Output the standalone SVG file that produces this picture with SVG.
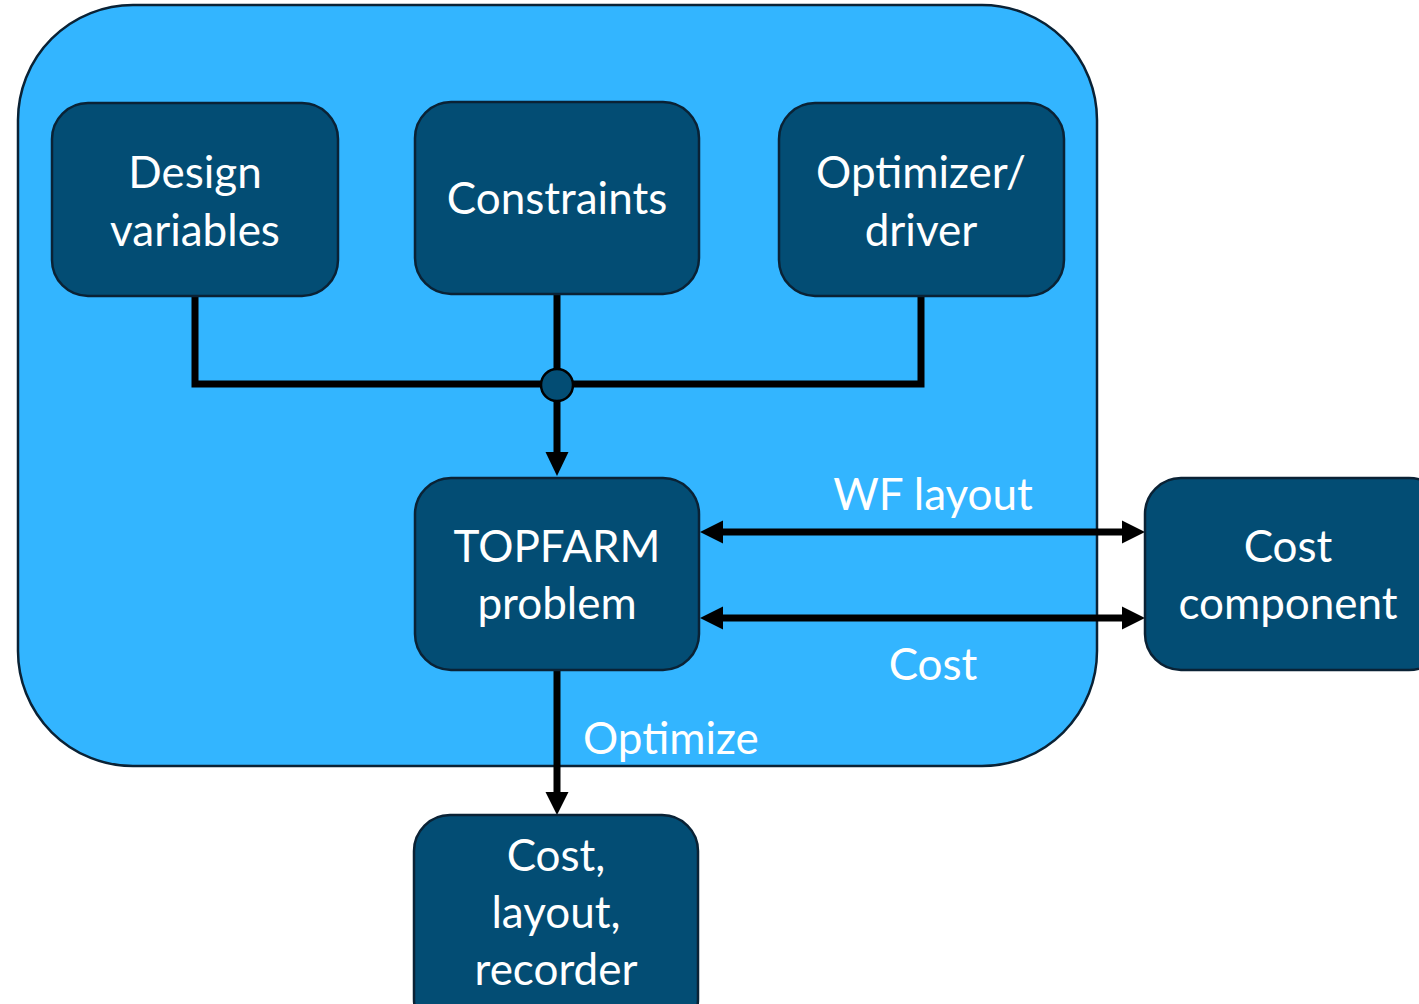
<svg xmlns="http://www.w3.org/2000/svg" width="1419" height="1004" viewBox="0 0 1419 1004">
<style>
.node{fill:#034d74;stroke:#0a2235;stroke-width:2.5}
.t{font-family:Lato,"Open Sans",sans-serif;font-size:44px;fill:#ffffff;text-anchor:middle}
.l{font-family:Lato,"Open Sans",sans-serif;font-size:44px;fill:#ffffff}
.c{fill:none;stroke:#000;stroke-width:7}
.ah{fill:#000}
</style>
<rect width="1419" height="1004" fill="#ffffff"/>
<g id="container">
<rect x="18" y="5" width="1079" height="761" rx="115" ry="115" fill="#33b5ff" stroke="#0a2235" stroke-width="2.5"/>
</g>
<g id="connectors">
<path class="c" d="M195,296 V384 H921 V296"/>
<path class="c" d="M557,294 V455"/>
<polygon class="ah" points="545.5,452 568.5,452 557,476"/>
<path class="c" d="M557,670 V795"/>
<polygon class="ah" points="545.5,792 568.5,792 557,815"/>
<path class="c" d="M720,532 H1125"/>
<polygon class="ah" points="723,520.5 723,543.5 700,532"/>
<polygon class="ah" points="1122,520.5 1122,543.5 1145,532"/>
<path class="c" d="M720,618 H1125"/>
<polygon class="ah" points="723,606.5 723,629.5 700,618"/>
<polygon class="ah" points="1122,606.5 1122,629.5 1145,618"/>
<text class="t" x="933" y="510">WF layout</text>
<text class="t" x="933" y="680">Cost</text>
<text class="l" x="583" y="754">Optimize</text>
</g>
<g id="junction">
<circle cx="557" cy="385" r="16" fill="#034d74" stroke="#000" stroke-width="2.5"/>
</g>
<g id="design-variables">
<rect class="node" x="52" y="103" width="286" height="193" rx="36"/>
<text class="t" x="195" y="188">Design</text>
<text class="t" x="195" y="246">variables</text>
</g>
<g id="constraints">
<rect class="node" x="415" y="102" width="284" height="192" rx="36"/>
<text class="t" x="557" y="214">Constraints</text>
</g>
<g id="optimizer">
<rect class="node" x="779" y="103" width="285" height="193" rx="36"/>
<text class="t" x="921" y="188">Optimizer/</text>
<text class="t" x="921" y="246">driver</text>
</g>
<g id="topfarm">
<rect class="node" x="415" y="478" width="284" height="192" rx="36"/>
<text class="t" x="557" y="562">TOPFARM</text>
<text class="t" x="557" y="619">problem</text>
</g>
<g id="cost-component">
<rect class="node" x="1145" y="478" width="300" height="192" rx="36"/>
<text class="t" x="1288" y="562">Cost</text>
<text class="t" x="1288" y="619">component</text>
</g>
<g id="recorder">
<rect class="node" x="414" y="815" width="284" height="220" rx="36"/>
<text class="t" x="556" y="871">Cost,</text>
<text class="t" x="556" y="928">layout,</text>
<text class="t" x="556" y="985">recorder</text>
</g>
</svg>
